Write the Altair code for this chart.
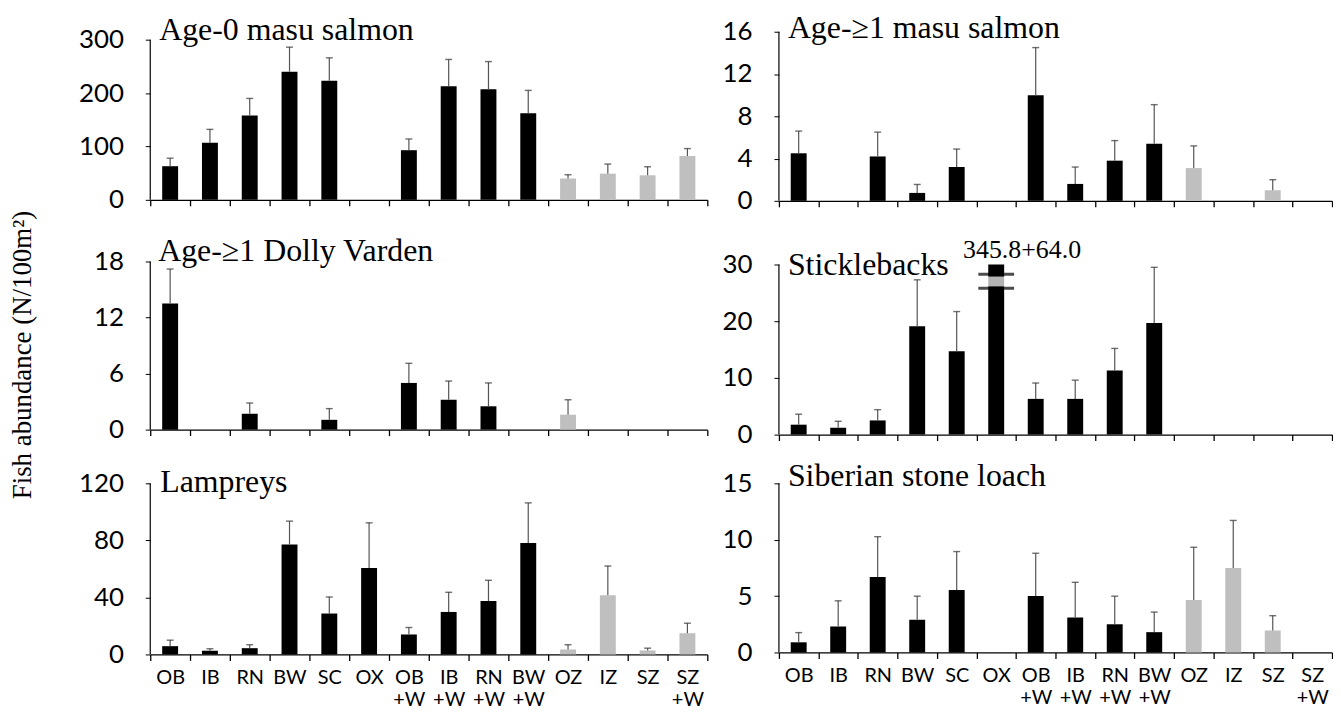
import altair as alt
import pandas as pd

categories = ["OB", "IB", "RN", "BW", "SC", "OX", "OB +W", "IB +W", "RN +W", "BW +W", "OZ", "IZ", "SZ", "SZ +W"]
groups = ["main"] * 10 + ["extra"] * 4

age0_mean = [63, 107, 158, 240, 223, 0, 93, 213, 207, 162, 40, 49, 46, 82]
age0_se = [15, 25, 32, 46, 43, 0, 21, 50, 52, 43, 7, 18, 16, 14]
age0_ticks = [0, 100, 200, 300]

age1_mean = [4.5, 0, 4.2, 0.75, 3.2, 0, 10.0, 1.6, 3.8, 5.4, 3.1, 0, 1.0, 0]
age1_se = [2.1, 0, 2.3, 0.8, 1.7, 0, 4.5, 1.6, 1.9, 3.7, 2.1, 0, 1.0, 0]
age1_ticks = [0, 4, 8, 12, 16]

dv_mean = [13.5, 0, 1.7, 0, 1.05, 0, 5.0, 3.2, 2.5, 0, 1.6, 0, 0, 0]
dv_se = [3.7, 0, 1.15, 0, 1.2, 0, 2.1, 2.0, 2.5, 0, 1.6, 0, 0, 0]
dv_ticks = [0, 6, 12, 18]

stick_mean = [1.75, 1.2, 2.5, 19.1, 14.7, 345.8, 6.3, 6.3, 11.3, 19.7, 0, 0, 0, 0]
stick_se = [1.85, 1.15, 1.9, 8.2, 7.0, 64.0, 2.8, 3.3, 3.9, 9.8, 0, 0, 0, 0]
stick_ticks = [0, 10, 20, 30]

lamp_mean = [5.8, 2.6, 4.4, 77.1, 28.7, 60.6, 14.0, 29.8, 37.5, 78.1, 3.5, 41.5, 2.8, 14.9]
lamp_se = [4.2, 1.4, 2.4, 16.4, 11.6, 31.7, 4.9, 13.8, 14.5, 28.2, 3.3, 20.5, 1.6, 7.0]
lamp_ticks = [0, 40, 80, 120]

loach_mean = [0.9, 2.3, 6.7, 2.9, 5.55, 0, 5.0, 3.1, 2.5, 1.8, 4.65, 7.5, 1.95, 0]
loach_se = [0.86, 2.28, 3.57, 2.09, 3.4, 0, 3.8, 3.12, 2.49, 1.78, 4.68, 4.21, 1.31, 0]
loach_ticks = [0, 5, 10, 15]

SERIF = "Liberation Serif"
SANS = "Lato"
ERR = "#555555"
CAPC = "#333333"


def panel(title, mean, se, ticks, dmax, width, height, show_labels, tx, ty, extras=None):
    df = pd.DataFrame({"cat": categories, "mean": mean, "se": se, "grp": groups})
    cap_v = ticks[-1]
    x = alt.X(
        "cat:N", sort=categories,
        scale=alt.Scale(paddingInner=0, paddingOuter=0),
        axis=alt.Axis(
            title=None, labels=show_labels, labelAngle=0,
            labelExpr="split(datum.label, ' ')",
            tickBand="extent", ticks=True, tickSize=6, tickColor="black",
            domainColor="black", domainWidth=1.3, tickWidth=1.3,
            labelFont=SANS, labelFontSize=20, labelColor="black",
            labelPadding=7, labelLineHeight=22,
        ),
    )

    def yenc(field):
        return alt.Y(
            field, scale=alt.Scale(domain=[0, dmax], nice=False, zero=True),
            axis=alt.Axis(
                title=None, values=ticks, grid=False, tickSize=5, tickColor="black",
                domain=False, labelFont=SANS, labelFontSize=26,
                labelColor="black", labelPadding=22,
            ),
        )

    base = alt.Chart(df).transform_calculate(
        shown=f"min(datum.mean, {cap_v})", top="datum.mean + datum.se"
    )
    bars = base.mark_bar(size=16).encode(
        x=x, y=yenc("shown:Q"),
        color=alt.Color("grp:N", scale=alt.Scale(domain=["main", "extra"], range=["#000000", "#bfbfbf"]), legend=None),
    )
    eb = base.transform_filter(f"datum.se > 0 && datum.mean < {cap_v}")
    err = eb.mark_rule(color=ERR, strokeWidth=1.2).encode(x=x, y=yenc("mean:Q"), y2="top:Q")
    cap = eb.mark_tick(color=CAPC, size=7, thickness=1.4).encode(x=x, y=yenc("top:Q"))
    yline = alt.Chart(pd.DataFrame({"lo": [ticks[0]], "hi": [ticks[-1]]})).mark_rule(
        color="black", strokeWidth=1.2
    ).encode(x=alt.value(0), y=yenc("lo:Q"), y2="hi:Q")
    ttl = alt.Chart(pd.DataFrame({"t": [title]})).mark_text(
        align="left", baseline="middle", font=SERIF, fontSize=32, color="black"
    ).encode(x=alt.value(tx), y=alt.value(ty), text="t:N")
    layers = [bars, err, cap, yline, ttl]
    if extras:
        layers += extras(x, yenc)
    return alt.layer(*layers).properties(width=width, height=height)


def stick_extras(x, yenc):
    i = categories.index("OX")
    cap_v = stick_ticks[-1]
    lbl = pd.DataFrame({"cat": [categories[i]], "lbl": [f"{stick_mean[i]}+{stick_se[i]:.1f}"], "yv": [cap_v]})
    brk = pd.DataFrame({"cat": [categories[i]], "w": [cap_v * 0.9], "b1": [cap_v * 0.942], "b2": [cap_v * 0.86]})
    text = alt.Chart(lbl).mark_text(
        font=SERIF, fontSize=26, baseline="middle", align="center", dx=26, dy=-15, color="black"
    ).encode(x=x, y=yenc("yv:Q"), text="lbl:N")
    white = alt.Chart(brk).mark_tick(color="white", size=24, thickness=10).encode(x=x, y=yenc("w:Q"))
    b1 = alt.Chart(brk).mark_tick(color="black", size=36, thickness=3).encode(x=x, y=yenc("b1:Q"))
    b2 = alt.Chart(brk).mark_tick(color="black", size=36, thickness=3).encode(x=x, y=yenc("b2:Q"))
    return [white, b1, b2, text]


def ytitle_extra(x, yenc):
    t = alt.Chart(pd.DataFrame({"t": ["Fish abundance (N/100m²)"]})).mark_text(
        font=SERIF, fontSize=27, angle=270, align="center", baseline="middle", color="black"
    ).encode(x=alt.value(-128), y=alt.value(106), text="t:N")
    return [t]


LW, RW = 560, 556

L1 = panel("Age-0 masu salmon", age0_mean, age0_se, age0_ticks, 314.9, LW, 169, False, 9, -2)
R1 = panel("Age-≥1 masu salmon", age1_mean, age1_se, age1_ticks, 16, RW, 170, False, 9, -4)
L2 = panel("Age-≥1 Dolly Varden", dv_mean, dv_se, dv_ticks, 19.28, LW, 181, False, 8, 1, ytitle_extra)
R2 = panel("Sticklebacks", stick_mean, stick_se, stick_ticks, 32.63, RW, 186, False, 9, 16, stick_extras)
L3 = panel("Lampreys", lamp_mean, lamp_se, lamp_ticks, 120, LW, 172, True, 10, -1)
R3 = panel("Siberian stone loach", loach_mean, loach_se, loach_ticks, 15, RW, 170, True, 9, -7)

chart = alt.concat(
    L1, R1, L2, R2, L3, R3, columns=2, spacing={"row": 49, "column": 72}, bounds="flush"
).properties(padding={"left": 0, "top": 2, "right": 0, "bottom": 0}).configure_view(stroke=None)

chart.save("out.html", embed_options={"renderer": "svg", "actions": False})
